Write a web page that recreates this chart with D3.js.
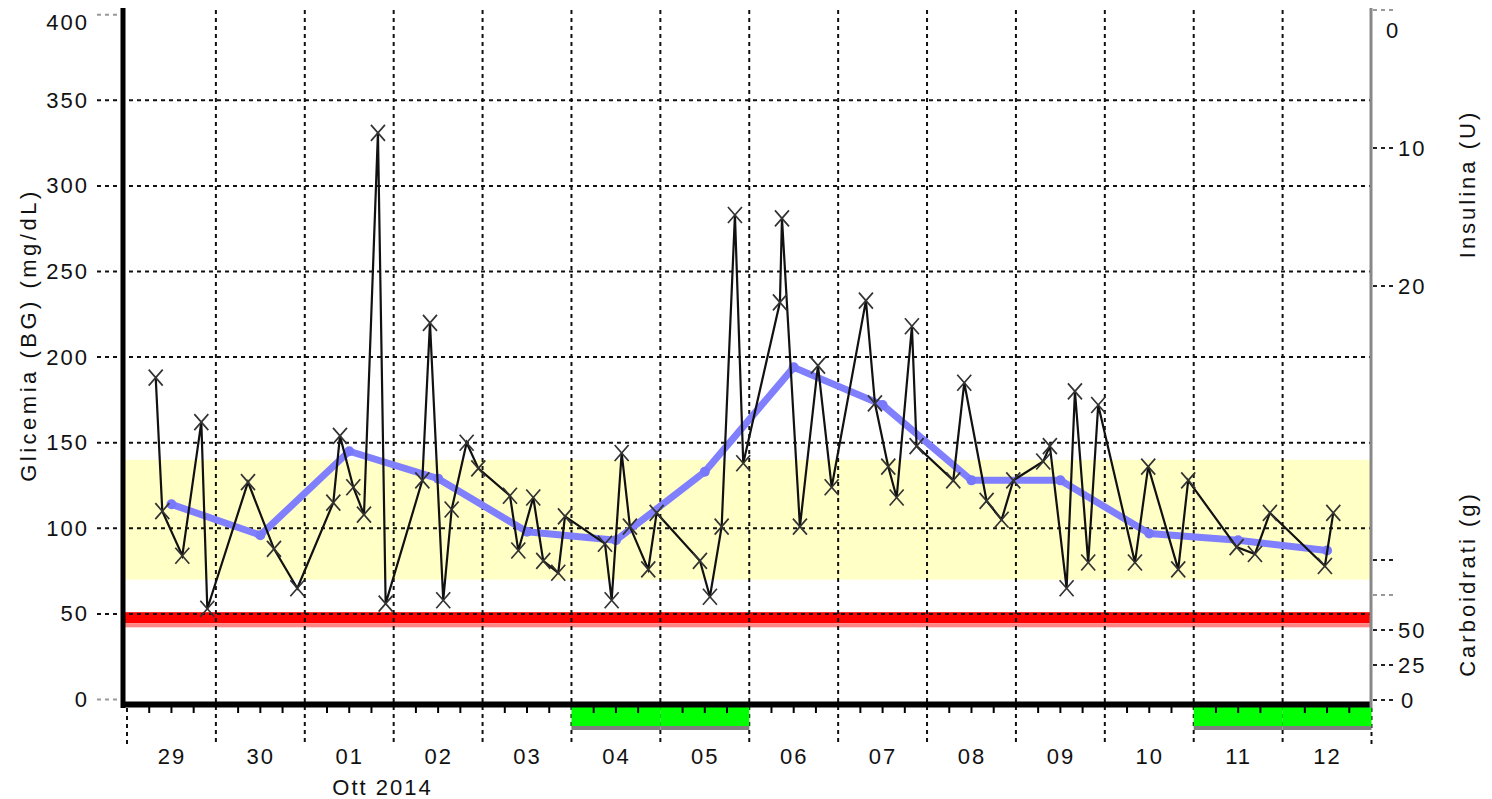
<!DOCTYPE html>
<meta charset="utf-8">
<style>
  body { margin: 0; background: #fff; }
  svg { display: block; }
  text {
    font-family: "Liberation Sans", Arial, sans-serif;
    font-size: 22px;
    fill: #111;
    letter-spacing: 2px;
  }
</style>
<body>
  <svg id="chart" width="1492" height="799"></svg>
</body>
<script src="https://cdnjs.cloudflare.com/ajax/libs/d3/7.8.5/d3.min.js"></script>
<script>
// glucose readings (mg/dL)
var bgTimes = [
  "2014-09-29 07:45", "2014-09-29 09:32", "2014-09-29 14:56", "2014-09-29 20:04", "2014-09-29 21:41",
  "2014-09-30 08:40", "2014-09-30 15:41", "2014-09-30 21:59",
  "2014-10-01 07:42", "2014-10-01 09:30", "2014-10-01 13:06", "2014-10-01 15:59", "2014-10-01 19:45", "2014-10-01 21:50",
  "2014-10-02 07:44", "2014-10-02 09:48", "2014-10-02 13:23", "2014-10-02 15:39", "2014-10-02 19:42", "2014-10-02 22:51",
  "2014-10-03 07:24", "2014-10-03 09:39", "2014-10-03 13:41", "2014-10-03 16:23", "2014-10-03 20:26", "2014-10-03 22:15",
  "2014-10-04 09:03", "2014-10-04 10:51", "2014-10-04 13:33", "2014-10-04 15:47", "2014-10-04 20:44", "2014-10-04 23:00",
  "2014-10-05 10:41", "2014-10-05 13:23", "2014-10-05 16:33", "2014-10-05 20:08", "2014-10-05 22:23",
  "2014-10-06 08:17", "2014-10-06 08:50", "2014-10-06 13:41", "2014-10-06 18:33", "2014-10-06 22:15",
  "2014-10-07 07:30", "2014-10-07 09:56", "2014-10-07 13:32", "2014-10-07 15:48", "2014-10-07 19:55", "2014-10-07 21:11",
  "2014-10-08 07:05", "2014-10-08 10:03", "2014-10-08 16:05", "2014-10-08 20:08", "2014-10-08 23:17",
  "2014-10-09 07:22", "2014-10-09 09:10", "2014-10-09 13:41", "2014-10-09 15:56", "2014-10-09 19:31", "2014-10-09 22:13",
  "2014-10-10 08:08", "2014-10-10 11:43", "2014-10-10 19:49", "2014-10-10 22:31",
  "2014-10-11 11:35", "2014-10-11 16:32", "2014-10-11 20:34",
  "2014-10-12 11:25", "2014-10-12 13:41"
];
var bgValues = [
  188, 110, 84, 162, 53,
  127, 88, 65,
  115, 154, 124, 108, 331, 56,
  128, 220, 58, 111, 150, 135,
  119, 87, 118, 81, 74, 107,
  91, 58, 144, 101, 76, 109,
  81, 60, 101, 283, 138,
  232, 281, 101, 195, 124,
  233, 173, 136, 118, 218, 148,
  128, 185, 116, 105, 128,
  139, 148, 65, 180, 80, 172,
  80, 136, 76, 128,
  89, 85, 109,
  78, 109
];

// daily average (plotted at noon)
var dayLabels = ["29", "30", "01", "02", "03", "04", "05", "06", "07", "08", "09", "10", "11", "12"];
var dayDates = ["2014-09-29", "2014-09-30", "2014-10-01", "2014-10-02", "2014-10-03", "2014-10-04", "2014-10-05",
  "2014-10-06", "2014-10-07", "2014-10-08", "2014-10-09", "2014-10-10", "2014-10-11", "2014-10-12"];
var avgValues = [114, 96, 145, 129, 98, 93, 133, 194, 172, 128, 128, 97, 93, 87];
var weekendDays = ["2014-10-04", "2014-10-05", "2014-10-11", "2014-10-12"];

var targetRange = [70, 140];
var hypoBand = [44.5, 51];
var bgTicks = [0, 50, 100, 150, 200, 250, 300, 350, 400];
var insulinTicks = [0, 10, 20];
var carbTicks = [0, 25, 50, 75, 100];
var carbLabelled = [0, 25, 50];

var parseT = d3.timeParse("%Y-%m-%d %H:%M");
var parseD = d3.timeParse("%Y-%m-%d");

var bg = bgTimes.map(function (t, i) { return { t: parseT(t), v: bgValues[i] }; });
var avg = dayDates.map(function (d, i) { return { t: d3.timeHour.offset(parseD(d), 12), v: avgValues[i] }; });

var svg = d3.select("#chart");
var start = parseD("2014-09-29"), end = parseD("2014-10-13");

var x = d3.scaleTime().domain([start, end]).range([127, 1371.5]);
var y = d3.scaleLinear().domain([0, 400]).range([699.5, 14.7]);
var yIns = d3.scaleLinear().domain([0, 20]).range([10, 286]);
var yCarb = d3.scaleLinear().domain([0, 100]).range([700, 560]);

var plotL = 124, plotR = 1371;

// target band + hypo line
svg.append("rect")
  .attr("x", plotL).attr("width", plotR - plotL)
  .attr("y", y(targetRange[1])).attr("height", y(targetRange[0]) - y(targetRange[1]))
  .attr("fill", "#ffffc6");
svg.append("rect")
  .attr("x", plotL).attr("width", plotR - plotL)
  .attr("y", y(hypoBand[1])).attr("height", y(hypoBand[0]) - y(hypoBand[1]))
  .attr("fill", "#ff0000");
svg.append("rect")
  .attr("x", plotL).attr("width", plotR - plotL)
  .attr("y", y(hypoBand[0])).attr("height", 4)
  .attr("fill", "#ff8484");

// horizontal grid (and the little left ticks)
svg.append("g").selectAll("line").data(bgTicks).enter().append("line")
  .attr("x1", 97)
  .attr("x2", function (d) { return (d == 0 || d == 400) ? plotL : plotR; })
  .attr("y1", function (d) { return y(d); }).attr("y2", function (d) { return y(d); })
  .attr("stroke", function (d) { return (d == 0 || d == 400) ? "#999" : "#111"; })
  .attr("stroke-width", 2)
  .attr("stroke-dasharray", "4,4");

// vertical day grid
var dayBounds = d3.timeDay.range(start, d3.timeDay.offset(end, 1));
svg.append("g").selectAll("line").data(dayBounds).enter().append("line")
  .attr("x1", function (d) { return x(d); }).attr("x2", function (d) { return x(d); })
  .attr("y1", function (d, i) { return (i == 0 || i == dayBounds.length - 1) ? 708 : 10; })
  .attr("y2", 744)
  .attr("stroke", "#111")
  .attr("stroke-width", 2)
  .attr("stroke-dasharray", "4,4");

// weekend bars under the axis
var wk = svg.append("g");
weekendDays.forEach(function (d) {
  var d0 = parseD(d), d1 = d3.timeDay.offset(d0, 1);
  wk.append("rect").attr("x", x(d0)).attr("width", x(d1) - x(d0))
    .attr("y", 707).attr("height", 20).attr("fill", "#00ff00");
  wk.append("rect").attr("x", x(d0)).attr("width", x(d1) - x(d0))
    .attr("y", 726).attr("height", 4).attr("fill", "#808080");
});

// minor 6h ticks
var sixH = d3.timeHour.every(6).range(start, end).filter(function (d) { return d.getHours() != 0; });
svg.append("g").selectAll("line").data(sixH).enter().append("line")
  .attr("x1", function (d) { return x(d); }).attr("x2", function (d) { return x(d); })
  .attr("y1", 706).attr("y2", 713)
  .attr("stroke", "#000").attr("stroke-width", 2);

// daily average line
svg.append("path").datum(avg)
  .attr("fill", "none")
  .attr("stroke", "#8080ff")
  .attr("stroke-width", 7)
  .attr("stroke-linejoin", "round")
  .attr("d", d3.line().x(function (d) { return x(d.t); }).y(function (d) { return y(d.v); }));
svg.append("g").selectAll("circle").data(avg).enter().append("circle")
  .attr("cx", function (d) { return x(d.t); }).attr("cy", function (d) { return y(d.v); })
  .attr("r", 5).attr("fill", "#7878fa");

// glucose line
svg.append("path").datum(bg)
  .attr("fill", "none")
  .attr("stroke", "#111")
  .attr("stroke-width", 2.2)
  .attr("d", d3.line().x(function (d) { return x(d.t); }).y(function (d) { return y(d.v); }));
svg.append("g").selectAll("path").data(bg).enter().append("path")
  .attr("transform", function (d) { return "translate(" + x(d.t) + "," + y(d.v) + ")"; })
  .attr("d", "M-7,-8L7,8M-7,8L7,-8")
  .attr("stroke", "#333")
  .attr("stroke-width", 1.7)
  .attr("fill", "none");

// axis lines
svg.append("line").attr("x1", 123).attr("x2", 123).attr("y1", 8).attr("y2", 708)
  .attr("stroke", "#000").attr("stroke-width", 5);
svg.append("line").attr("x1", 121).attr("x2", plotR).attr("y1", 704.5).attr("y2", 704.5)
  .attr("stroke", "#000").attr("stroke-width", 6);
svg.append("line").attr("x1", 1371).attr("x2", 1371).attr("y1", 8).attr("y2", 708)
  .attr("stroke", "#888").attr("stroke-width", 3);

// left axis labels
var yAxis = d3.axisLeft(y).tickValues(bgTicks).tickSize(0).tickPadding(0);
var gy = svg.append("g").attr("transform", "translate(89,0)").call(yAxis);
gy.select(".domain").remove();
gy.selectAll("text").attr("font-size", null).attr("font-family", null)
  .attr("y", function (d) { return d == 400 ? 8 : 0; });

svg.append("text")
  .attr("transform", "translate(36,335) rotate(-90)")
  .attr("text-anchor", "middle")
  .style("letter-spacing", "3.5px")
  .text("Glicemia (BG) (mg/dL)");

// right axis: insulin
svg.append("g").selectAll("line").data(insulinTicks).enter().append("line")
  .attr("x1", 1373).attr("x2", 1396)
  .attr("y1", function (d) { return yIns(d); }).attr("y2", function (d) { return yIns(d); })
  .attr("stroke", function (d) { return d == 0 ? "#999" : "#222"; })
  .attr("stroke-width", 2).attr("stroke-dasharray", "4,4");
var gIns = svg.append("g").attr("transform", "translate(1398,0)")
  .call(d3.axisRight(yIns).tickValues(insulinTicks).tickSize(0).tickPadding(0));
gIns.select(".domain").remove();
gIns.selectAll("text").attr("font-size", null).attr("font-family", null)
  .attr("y", function (d) { return d == 0 ? 20 : 0; })
  .attr("x", function (d) { return d == 0 ? -12 : 0; });

// right axis: carbs
svg.append("g").selectAll("line").data(carbTicks).enter().append("line")
  .attr("x1", 1373).attr("x2", 1396)
  .attr("y1", function (d) { return yCarb(d); }).attr("y2", function (d) { return yCarb(d); })
  .attr("stroke", function (d) { return d == 75 ? "#999" : "#222"; })
  .attr("stroke-width", 2).attr("stroke-dasharray", "4,4");
var gCarb = svg.append("g").attr("transform", "translate(1398,0)")
  .call(d3.axisRight(yCarb).tickValues(carbTicks).tickSize(0).tickPadding(0)
    .tickFormat(function (d) { return carbLabelled.indexOf(d) >= 0 ? d : ""; }));
gCarb.select(".domain").remove();
gCarb.selectAll("text").attr("font-size", null).attr("font-family", null)
  .attr("x", function (d) { return d == 0 ? 3 : 0; });

svg.append("text")
  .attr("transform", "translate(1475,184) rotate(-90)")
  .attr("text-anchor", "middle")
  .style("letter-spacing", "3px")
  .text("Insulina (U)");
svg.append("text")
  .attr("transform", "translate(1475,584) rotate(-90)")
  .attr("text-anchor", "middle")
  .style("letter-spacing", "3px")
  .text("Carboidrati (g)");

// bottom axis: day labels
var noons = dayDates.map(function (d) { return d3.timeHour.offset(parseD(d), 12); });
var gx = svg.append("g").attr("transform", "translate(0,748)")
  .call(d3.axisBottom(x).tickValues(noons).tickSize(0).tickPadding(0)
    .tickFormat(function (d, i) { return dayLabels[i]; }));
gx.select(".domain").remove();
gx.selectAll("text").attr("font-size", null).attr("font-family", null);

svg.append("text")
  .attr("x", x(parseT("2014-10-01 21:00"))).attr("y", 795)
  .attr("text-anchor", "middle")
  .text("Ott 2014");
</script>
